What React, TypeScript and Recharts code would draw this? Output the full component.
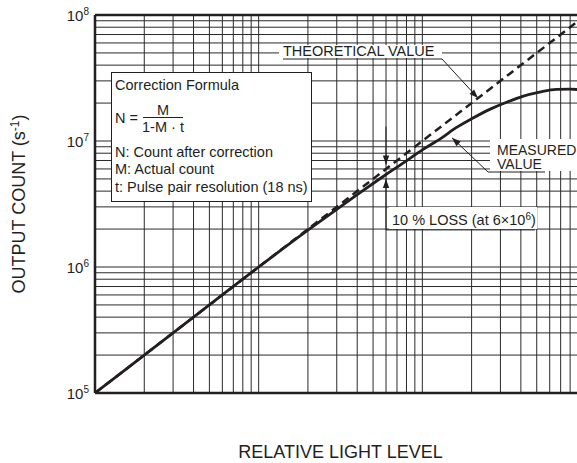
import React from 'react';
import {
  LineChart,
  Line,
  XAxis,
  YAxis,
  CartesianGrid,
  ReferenceLine,
  ReferenceDot,
  Customized,
} from 'recharts';

// ---- data ----
const lightLevels = [1, 2, 5, 10, 20, 30, 40, 50, 60, 80, 100, 130, 160, 200, 260, 330, 410, 520, 660, 800, 1000];
const measuredCounts = [
  1e5, 2e5, 5e5, 1e6, 1.96e6, 2.87e6, 3.75e6, 4.6e6, 5.42e6, 6.95e6, 8.5e6, 1.05e7, 1.27e7, 1.5e7,
  1.79e7, 2.04e7, 2.26e7, 2.44e7, 2.57e7, 2.58e7, 2.52e7,
];
const theoreticalLevels = [1, 10, 100, 1000];
const theoreticalCounts = [1e5, 1e6, 1e7, 1e8];

const xGridTicks = [
  1, 2, 3, 4, 5, 6, 7, 8, 9, 10, 20, 30, 40, 50, 60, 70, 80, 90, 100, 200, 300, 400, 500, 600, 700, 800, 900, 1000,
];
const yGridTicks = [
  1e5, 2e5, 3e5, 4e5, 5e5, 6e5, 7e5, 8e5, 9e5, 1e6, 2e6, 3e6, 4e6, 5e6, 6e6, 7e6, 8e6, 9e6, 1e7, 2e7, 3e7, 4e7,
  5e7, 6e7, 7e7, 8e7, 9e7, 1e8,
];
const yDecadeTicks = [1e5, 1e6, 1e7, 1e8];
const yDecadeExponents = ['5', '6', '7', '8'];

const measuredData = lightLevels.map((x, i) => ({ x, y: measuredCounts[i] }));
const theoreticalData = theoreticalLevels.map((x, i) => ({ x, y: theoreticalCounts[i] }));

// annotation anchors (data coordinates)
const theoArrowTip = { x: 219, y: 2.19e7 };
const theoLeaderStart = { x: 131.8, y: 4.48e7 };
const measArrowTip = { x: 151.8, y: 1.06e7 };
const measLeaderEnd = { x: 251.8, y: 5.68e6 };
const lossLevel = 60;
const lossTopStart = 1.3e7;
const lossUpperTip = 6.5e6;
const lossLowerTip = 5.0e6;
const lossBaseY = 1.97e6;
const lossBaseEndX = 488;

const INK = '#231f20';
const FONT = '"Liberation Sans", Arial, Helvetica, sans-serif';

const arrowShape = (angleDeg: number) => (props: any) => {
  const { cx, cy } = props;
  if (cx == null || cy == null) return <g />;
  return (
    <g transform={`translate(${cx},${cy}) rotate(${angleDeg})`}>
      <polygon points="0,0 -9,-3.2 -9,3.2" fill={INK} stroke="none" />
    </g>
  );
};

const EmptyTick = () => <g />;

const YTick = (props: any) => {
  const { y, payload } = props;
  const idx = yDecadeTicks.indexOf(payload.value);
  if (idx < 0) return <g />;
  return (
    <text x={89} y={y + 6} textAnchor="end" fontFamily={FONT} fontSize={15} fill={INK}>
      10
      <tspan dy={-6} fontSize={10}>
        {yDecadeExponents[idx]}
      </tspan>
    </text>
  );
};

const Overlay = () => {
  const t = { fontFamily: FONT, fill: INK, fontSize: 14.5 } as any;
  const ts = { fontFamily: FONT, fill: INK, fontSize: 14 } as any;
  return (
    <g>
      {/* correction formula box */}
      <rect x={111.5} y={72.5} width={200} height={129} fill="#fff" stroke={INK} strokeWidth={1} />
      <text x={115} y={90} {...t}>Correction Formula</text>
      <text x={115} y={123} {...t}>N =</text>
      <text x={163} y={115} {...t} textAnchor="middle">M</text>
      <line x1={143} x2={183} y1={117.5} y2={117.5} stroke={INK} strokeWidth={1} />
      <text x={163} y={132} {...t} textAnchor="middle">1-M · t</text>
      <text x={115} y={157} {...t}>N: Count after correction</text>
      <text x={115} y={174} {...t}>M: Actual count</text>
      <text x={115} y={192} {...t}>t: Pulse pair resolution (18 ns)</text>

      {/* theoretical label */}
      <rect x={279} y={45} width={163} height={13} fill="#fff" />
      <text x={283} y={56} {...t}>THEORETICAL VALUE</text>
      <line x1={283} x2={442} y1={59} y2={59} stroke={INK} strokeWidth={1} />

      {/* measured label */}
      <rect x={490} y={139} width={100} height={32} fill="#fff" />
      <text x={497} y={154.5} {...ts}>MEASURED</text>
      <text x={497} y={168.5} {...ts}>VALUE</text>
      <line x1={488} x2={545} y1={172} y2={172} stroke={INK} strokeWidth={1} />

      {/* loss label */}
      <rect x={389} y={207} width={148} height={22} fill="#fff" />
      <text x={392} y={225} {...t}>
        10 % LOSS (at 6×10
        <tspan dy={-5} fontSize={10}>6</tspan>
        <tspan dy={5}>)</tspan>
      </text>

      {/* axis titles */}
      <text
        x={25}
        y={204}
        transform="rotate(-90 25 204)"
        textAnchor="middle"
        fontFamily={FONT}
        fontSize={18}
        fill={INK}
      >
        OUTPUT COUNT (s
        <tspan dy={-6} fontSize={12}>-1</tspan>
        <tspan dy={6}>)</tspan>
      </text>
      <text x={340.5} y={458} textAnchor="middle" fontFamily={FONT} fontSize={18} fill={INK}>
        RELATIVE LIGHT LEVEL
      </text>
    </g>
  );
};

export default function App() {
  return (
    <div
      style={{
        position: 'absolute',
        left: 0,
        top: 0,
        width: 577,
        height: 463,
        overflow: 'hidden',
        background: '#fff',
      }}
    >
      <LineChart width={600} height={463} margin={{ top: 15, right: 14, bottom: 0, left: 0 }}>
        <CartesianGrid stroke="#2a2a2a" strokeWidth={1} />
        <XAxis
          dataKey="x"
          type="number"
          scale="log"
          domain={[1, 1000]}
          ticks={xGridTicks}
          interval={0}
          allowDataOverflow
          tick={<EmptyTick />}
          tickLine={false}
          axisLine={{ stroke: INK, strokeWidth: 2.5 }}
          height={70}
        />
        <YAxis
          type="number"
          scale="log"
          domain={[1e5, 1e8]}
          ticks={yGridTicks}
          allowDataOverflow
          tick={<YTick />}
          tickLine={false}
          axisLine={{ stroke: INK, strokeWidth: 2.5 }}
          width={95}
          interval={0}
        />
        <ReferenceLine y={1e8} stroke={INK} strokeWidth={2.5} />
        <Customized component={Overlay} />
        <Line
          data={theoreticalData}
          dataKey="y"
          type="linear"
          stroke={INK}
          strokeWidth={2.5}
          strokeDasharray="8 5"
          dot={false}
          isAnimationActive={false}
        />
        <Line
          data={measuredData}
          dataKey="y"
          type="monotone"
          stroke={INK}
          strokeWidth={2.8}
          dot={false}
          isAnimationActive={false}
        />
        <ReferenceLine segment={[theoLeaderStart, theoArrowTip]} stroke={INK} strokeWidth={1} />
        <ReferenceDot x={theoArrowTip.x} y={theoArrowTip.y} shape={arrowShape(45.7)} />
        <ReferenceLine segment={[measLeaderEnd, measArrowTip]} stroke={INK} strokeWidth={1} />
        <ReferenceDot x={measArrowTip.x} y={measArrowTip.y} shape={arrowShape(223)} />
        <ReferenceLine
          segment={[
            { x: lossLevel, y: lossTopStart },
            { x: lossLevel, y: lossUpperTip },
          ]}
          stroke={INK}
          strokeWidth={1}
        />
        <ReferenceDot x={lossLevel} y={lossUpperTip} shape={arrowShape(90)} />
        <ReferenceLine
          segment={[
            { x: lossLevel, y: lossLowerTip },
            { x: lossLevel, y: lossBaseY },
          ]}
          stroke={INK}
          strokeWidth={1}
        />
        <ReferenceLine
          segment={[
            { x: lossLevel, y: lossBaseY },
            { x: lossBaseEndX, y: lossBaseY },
          ]}
          stroke={INK}
          strokeWidth={1}
        />
        <ReferenceDot x={lossLevel} y={lossLowerTip} shape={arrowShape(-90)} />
      </LineChart>
    </div>
  );
}
